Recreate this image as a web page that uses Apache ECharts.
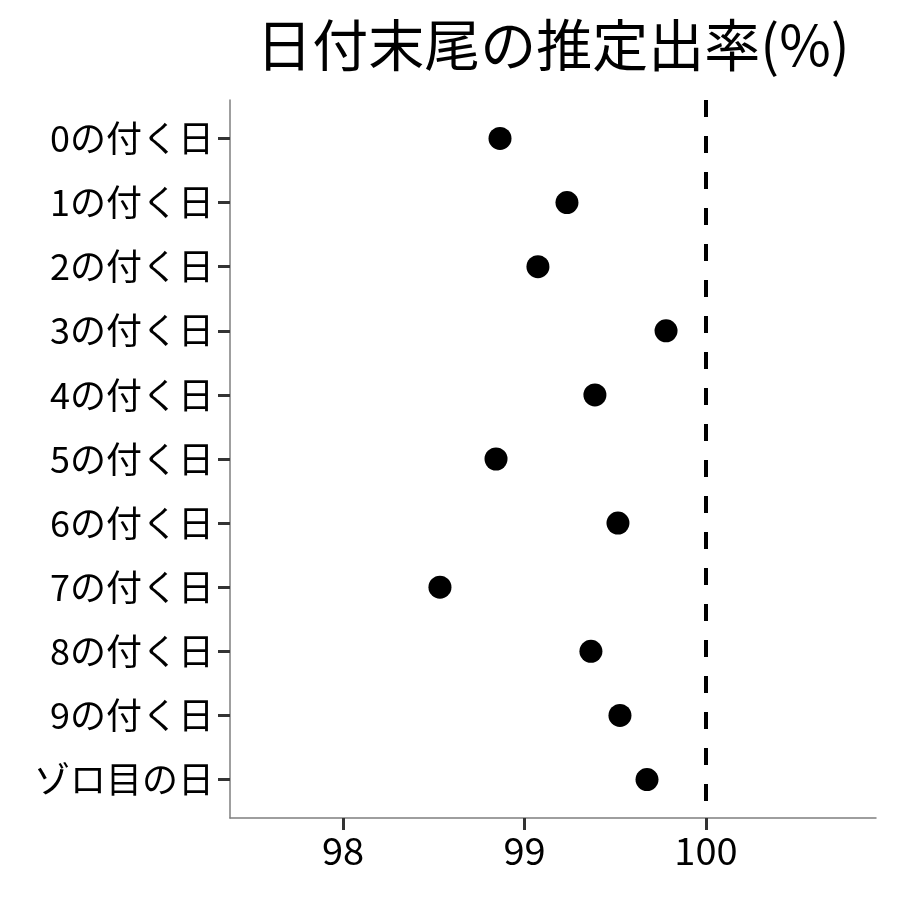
<!DOCTYPE html>
<html><head><meta charset="utf-8">
<script src="https://cdn.jsdelivr.net/npm/echarts@6/dist/echarts.min.js"></script>
<style>html,body{margin:0;padding:0;background:#fff}#c{width:900px;height:900px}</style>
</head><body><div id="c"></div>
<script>
const categories = ['0の付く日','1の付く日','2の付く日','3の付く日','4の付く日','5の付く日','6の付く日','7の付く日','8の付く日','9の付く日','ゾロ目の日'];
const rates = [98.865, 99.234, 99.074, 99.780, 99.388, 98.843, 99.515, 98.534, 99.366, 99.526, 99.675];
const xTicks = [98, 99, 100];
const refValue = 100;
const titleText = '日付末尾の推定出率(%)';

const font = '"Noto Sans CJK JP", "Noto Sans", sans-serif';
const chart = echarts.init(document.getElementById('c'), null, {renderer: 'canvas'});
// category positions 1..N on a numeric axis (ggplot-style 0.6 padding)
const catPos = categories.map((_, i) => i + 1);
chart.setOption({
  animation: false,
  backgroundColor: '#fff',
  title: {
    text: titleText, left: 548, top: 12, textAlign: 'center',
    textStyle: {fontFamily: font, fontSize: 56, fontWeight: 'normal', color: '#000'}
  },
  grid: {left: 230, right: 24, top: 100, bottom: 82, containLabel: false},
  xAxis: {
    type: 'value', min: 97.377, max: 100.937,
    axisLine: {show: true, lineStyle: {color: '#7f7f7f', width: 1.5}},
    axisTick: {show: true, customValues: xTicks, length: 12, lineStyle: {color: '#333333', width: 3}},
    axisLabel: {customValues: xTicks, fontFamily: font, fontSize: 38, color: '#000', margin: 14},
    splitLine: {show: false}
  },
  yAxis: {
    type: 'value', inverse: true, min: 0.4, max: 11.6,
    axisLine: {show: true, lineStyle: {color: '#7f7f7f', width: 1.5}},
    axisTick: {show: true, customValues: catPos, length: 12, lineStyle: {color: '#333333', width: 3}},
    axisLabel: {customValues: catPos, formatter: v => categories[Math.round(v) - 1], fontFamily: font, fontSize: 36, color: '#000', margin: 16},
    splitLine: {show: false}
  },
  series: [{
    type: 'scatter',
    data: rates.map((v, i) => [v, catPos[i]]),
    symbol: 'circle', symbolSize: 23,
    itemStyle: {color: '#000', opacity: 1},
    markLine: {
      silent: true, symbol: 'none',
      label: {show: false},
      lineStyle: {color: '#000', width: 4, type: [17, 19]},
      data: [{xAxis: refValue}]
    }
  }]
});
</script></body></html>
